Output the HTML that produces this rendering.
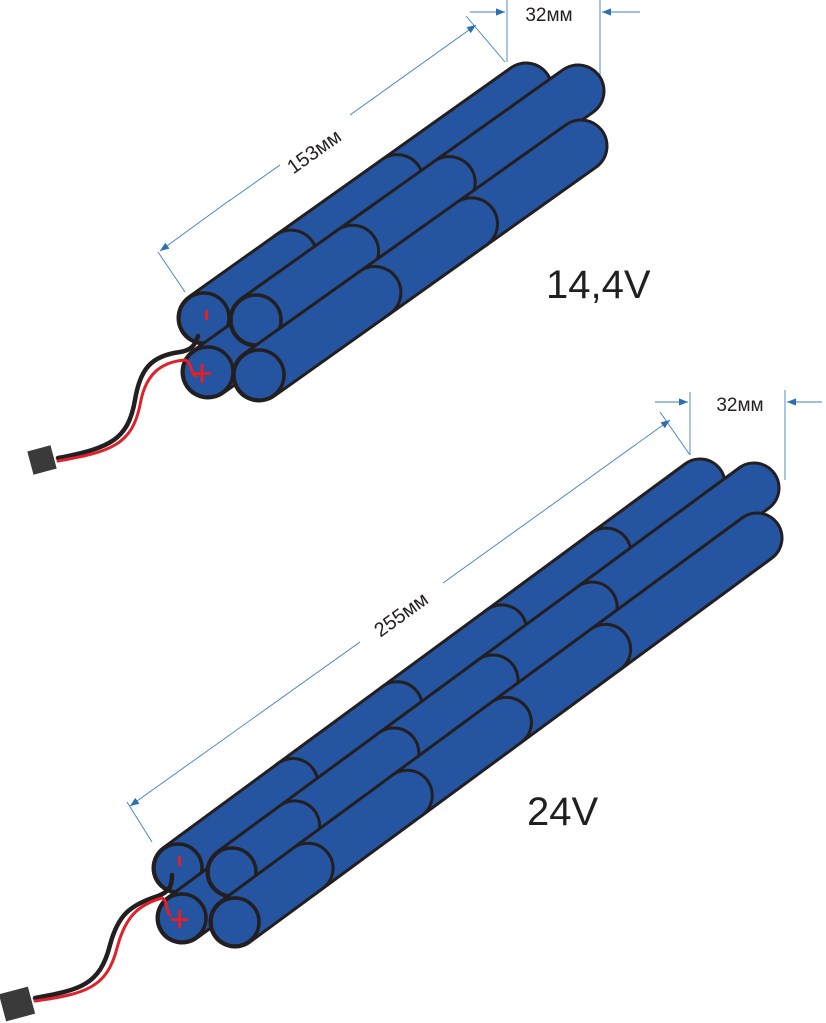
<!DOCTYPE html>
<html><head><meta charset="utf-8"><style>
html,body{margin:0;padding:0;background:#fff;}
svg{display:block;}
text{font-family:"Liberation Sans",sans-serif;fill:#231f20;}
</style></head><body>
<svg id="s" width="826" height="1023" viewBox="0 0 826 1023" xmlns="http://www.w3.org/2000/svg">
<defs>
<marker id="ar" viewBox="0 0 10 10" refX="10" refY="5" markerWidth="12" markerHeight="9" orient="auto" markerUnits="userSpaceOnUse"><path d="M0,1 L10,5 L0,9 z" fill="#2a6fb0"/></marker>
</defs>
<g stroke="#3d7fc0" stroke-width="0.9" fill="none">
<line x1="158" y1="252" x2="185" y2="292"/>
<line x1="466" y1="16" x2="505" y2="62"/>
<line x1="230" y1="200" x2="160" y2="251" marker-end="url(#ar)"/>
<line x1="280" y1="165" x2="229" y2="201"/>
<line x1="350" y1="115" x2="476" y2="25" marker-end="url(#ar)"/>
<line x1="507" y1="0" x2="507" y2="62"/>
<line x1="600" y1="0" x2="600" y2="92"/>
<line x1="470" y1="12" x2="505" y2="12" marker-end="url(#ar)"/>
<line x1="640" y1="12" x2="602" y2="12" marker-end="url(#ar)"/>
<line x1="127" y1="802" x2="152" y2="842"/>
<line x1="660" y1="412" x2="690" y2="455"/>
<line x1="360" y1="642" x2="130" y2="806" marker-end="url(#ar)"/>
<line x1="443" y1="583" x2="670" y2="420" marker-end="url(#ar)"/>
<line x1="690" y1="392" x2="690" y2="455"/>
<line x1="785" y1="390" x2="785" y2="480"/>
<line x1="655" y1="402" x2="688" y2="402" marker-end="url(#ar)"/>
<line x1="822" y1="402" x2="787" y2="402" marker-end="url(#ar)"/>
</g>
<text x="549" y="21" font-size="19" text-anchor="middle">32мм</text>
<text x="740" y="411" font-size="19" text-anchor="middle">32мм</text>
<text x="0" y="0" font-size="20" text-anchor="middle" transform="translate(318,157) rotate(-35.5)">153мм</text>
<text x="0" y="0" font-size="20" text-anchor="middle" transform="translate(405,620) rotate(-36)">255мм</text>
<text x="546" y="298" font-size="40">14,4V</text>
<text x="527" y="825" font-size="40">24V</text>
<g id="packs"></g>
<g id="over">
<g fill="none" stroke-linecap="round">
<path d="M198,336 C195,345 192,350 180,352 C150,356 140,370 135,400 C128,440 110,448 58,458" stroke="#231f20" stroke-width="4.5"/>
<path d="M185,360 C192,362 190,372 195,376 M185,360 C160,362 145,375 140,405 C132,445 110,452 58,461" stroke="#e0202a" stroke-width="3"/>
<path d="M172,875 C172,888 168,892 158,896 C130,905 118,915 110,945 C100,985 80,990 35,998" stroke="#231f20" stroke-width="4.5"/>
<path d="M162,898 C168,900 165,910 170,915 M162,898 C137,905 125,918 117,948 C107,988 85,994 35,1001" stroke="#e0202a" stroke-width="3"/>
</g>
<rect x="30" y="448" width="24" height="24" fill="#3a3a3a" transform="rotate(-15 42 460)"/>
<rect x="2" y="990" width="30" height="28" fill="#3a3a3a" transform="rotate(-15 17 1004)"/>
<g fill="#e0202a">
<rect x="205" y="310" width="3" height="10"/>
<rect x="193" y="372" width="18" height="3"/><rect x="200.5" y="364" width="3" height="19"/>
<rect x="178" y="856" width="3" height="10"/>
<rect x="171" y="918" width="17" height="3"/><rect x="178" y="910" width="3" height="18"/>
</g>
</g>
</svg>
<script>
(function(){
var g=document.getElementById('packs');var NS='http://www.w3.org/2000/svg';
function el(n,a){var e=document.createElementNS(NS,n);for(var k in a)e.setAttribute(k,a[k]);g.appendChild(e);return e;}
function cyl(fx,fy,vx,vy,r,seams){
  var pts=[0].concat(seams).concat([1]);
  for(var i=pts.length-2;i>=0;i--){
    var t0=pts[i],t1=pts[i+1];
    var x0=fx+vx*t0,y0=fy+vy*t0,x1=fx+vx*t1,y1=fy+vy*t1;
    el('line',{x1:x0,y1:y0,x2:x1,y2:y1,stroke:'#231f20','stroke-width':2*r+5,'stroke-linecap':'round'});
    el('line',{x1:x0,y1:y0,x2:x1,y2:y1,stroke:'#2554a0','stroke-width':2*r-1,'stroke-linecap':'round'});
  }
  el('circle',{cx:fx,cy:fy,r:r,fill:'#2554a0',stroke:'#231f20','stroke-width':3.5});
}
var vx=322,vy=-229,r=25;
cyl(204,318,vx,vy,r,[0.27,0.6]);
cyl(208,372,vx,vy,r,[0.47,0.78]);
cyl(256,320,vx,vy,r,[0.3,0.6]);
cyl(259,375,vx,vy,r,[0.36,0.66]);
var bx=522,by=-384,br=24;
cyl(178,868,bx,by,br,[0.22,0.42,0.62,0.82]);
cyl(182,918,bx,by,br,[0.2,0.4,0.6,0.8]);
cyl(232,872,bx,by,br,[0.12,0.31,0.5,0.69]);
cyl(235,922,bx,by,br,[0.14,0.33,0.52,0.71]);
var s=document.getElementById('s');
s.appendChild(document.getElementById('over'));
})();
</script>
</body></html>
